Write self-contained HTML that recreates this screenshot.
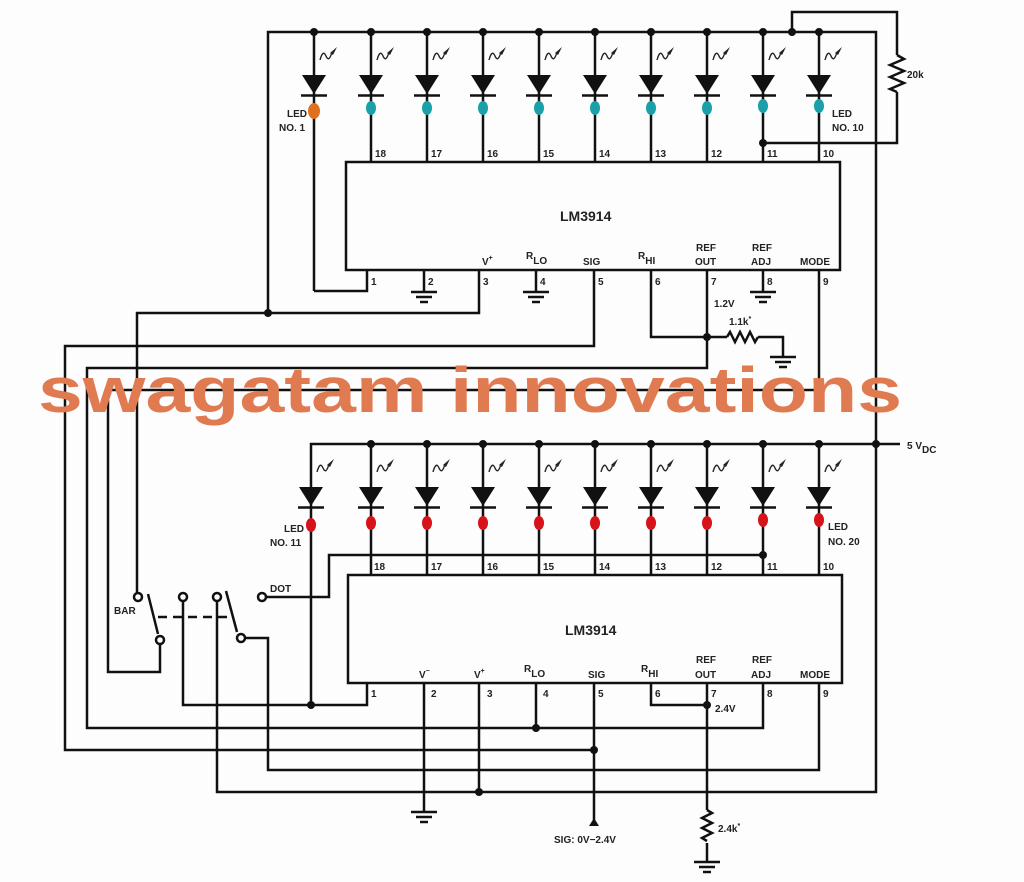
<!DOCTYPE html>
<html><head><meta charset="utf-8"><style>
html,body{margin:0;padding:0;background:#fdfdfd;}
svg{display:block;}
text{font-family:"Liberation Sans",Arial,sans-serif;font-weight:bold;fill:#222;}
.s{font-size:10px;}
</style></head><body>
<svg width="1024" height="882" viewBox="0 0 1024 882" xmlns="http://www.w3.org/2000/svg">
<defs>
<g id="dt">
 <polygon points="-12,75 12,75 0,94" fill="#111"/>
 <line x1="-13" y1="95.5" x2="13" y2="95.5" stroke="#111" stroke-width="2.5"/>
 <path d="M6,60 q3,-11 6,-4 q3,7 6,-4" fill="none" stroke="#222" stroke-width="1.4"/>
 <polygon points="23,47 16,53 19,55" fill="#222"/>
</g>
<g id="gnd" stroke="#111" stroke-width="2.5">
 <line x1="-13" y1="0" x2="13" y2="0"/><line x1="-8" y1="5" x2="8" y2="5"/><line x1="-4" y1="10" x2="4" y2="10"/>
</g>
</defs>
<g stroke="#111" stroke-width="2.5" fill="none">
<!-- TOP SECTION -->
<polyline points="268,313 268,32 876,32 876,792 217,792 217,601"/>
<polyline points="792,32 792,12 897,12 897,55"/>
<path d="M897,55 l7,4 l-14,6 l14,6 l-14,6 l14,6 l-14,6 l7,3"/>
<polyline points="897,92 897,143 763,143"/>
<!-- LED wires top -->
<line x1="314" y1="32" x2="314" y2="291"/><polyline points="314,291 367,291 367,270"/>
<line x1="371" y1="32" x2="371" y2="162"/><line x1="427" y1="32" x2="427" y2="162"/>
<line x1="483" y1="32" x2="483" y2="162"/><line x1="539" y1="32" x2="539" y2="162"/>
<line x1="595" y1="32" x2="595" y2="162"/><line x1="651" y1="32" x2="651" y2="162"/>
<line x1="707" y1="32" x2="707" y2="162"/><line x1="763" y1="32" x2="763" y2="162"/>
<line x1="819" y1="32" x2="819" y2="162"/>
<rect x="346" y="162" width="494" height="108"/>
<!-- top chip bottom pins -->
<line x1="424" y1="270" x2="424" y2="292"/><line x1="536" y1="270" x2="536" y2="292"/><line x1="763" y1="270" x2="763" y2="292"/>
<polyline points="479,270 479,313 137,313 137,593"/>
<polyline points="594,270 594,346 65,346 65,750 594,750"/>
<polyline points="651,270 651,337 707,337"/>
<polyline points="707,270 707,368 87,368 87,728 763,728 763,683"/>
<polyline points="707,337 727,337"/>
<path d="M727,337 l3,-5 l5,10 l5,-10 l5,10 l5,-10 l5,10 l3,-5"/>
<polyline points="758,337 783,337 783,357"/>
<polyline points="819,270 819,390 108,390 108,672 160,672 160,644"/>
<!-- 5V rail -->
<polyline points="311,525 311,444 900,444"/>
<line x1="371" y1="444" x2="371" y2="575"/><line x1="427" y1="444" x2="427" y2="575"/>
<line x1="483" y1="444" x2="483" y2="575"/><line x1="539" y1="444" x2="539" y2="575"/>
<line x1="595" y1="444" x2="595" y2="575"/><line x1="651" y1="444" x2="651" y2="575"/>
<line x1="707" y1="444" x2="707" y2="575"/><line x1="763" y1="444" x2="763" y2="575"/>
<line x1="819" y1="444" x2="819" y2="575"/>
<line x1="311" y1="525" x2="311" y2="705"/>
<polyline points="763,555 329,555 329,597 266,597"/>
<rect x="348" y="575" width="494" height="108"/>
<polyline points="367,683 367,705 183,705 183,601"/>
<line x1="424" y1="683" x2="424" y2="812"/>
<line x1="479" y1="683" x2="479" y2="792"/>
<line x1="536" y1="683" x2="536" y2="728"/>
<line x1="594" y1="683" x2="594" y2="820"/>
<polyline points="651,683 651,705 707,705"/>
<line x1="707" y1="683" x2="707" y2="810"/>
<path d="M707,810 l5,3 l-10,5 l10,5 l-10,5 l10,5 l-10,5 l5,3"/>
<line x1="707" y1="843" x2="707" y2="862"/>
<polyline points="819,683 819,770 268,770 268,638 245,638"/>
<!-- switch -->
<line x1="148" y1="594" x2="158" y2="634"/>
<line x1="226" y1="591" x2="237" y2="632"/>
<line x1="158" y1="617" x2="230" y2="617" stroke-dasharray="9,6"/>
<circle cx="138" cy="597" r="4" fill="#fff"/><circle cx="160" cy="640" r="4" fill="#fff"/>
<circle cx="183" cy="597" r="4" fill="#fff"/><circle cx="217" cy="597" r="4" fill="#fff"/>
<circle cx="241" cy="638" r="4" fill="#fff"/><circle cx="262" cy="597" r="4" fill="#fff"/>
</g>
<!-- grounds -->
<use href="#gnd" x="424" y="292"/><use href="#gnd" x="536" y="292"/><use href="#gnd" x="763" y="292"/>
<use href="#gnd" x="783" y="357"/><use href="#gnd" x="424" y="812"/><use href="#gnd" x="707" y="862"/>
<polygon points="594,818 589,826 599,826" fill="#111"/>
<!-- dots -->
<g fill="#111">
<circle cx="314" cy="32" r="4"/><circle cx="371" cy="32" r="4"/><circle cx="427" cy="32" r="4"/><circle cx="483" cy="32" r="4"/><circle cx="539" cy="32" r="4"/><circle cx="595" cy="32" r="4"/><circle cx="651" cy="32" r="4"/><circle cx="707" cy="32" r="4"/><circle cx="763" cy="32" r="4"/><circle cx="792" cy="32" r="4"/><circle cx="819" cy="32" r="4"/>
<circle cx="763" cy="143" r="4"/><circle cx="268" cy="313" r="4"/><circle cx="707" cy="337" r="4"/>
<circle cx="371" cy="444" r="4"/><circle cx="427" cy="444" r="4"/><circle cx="483" cy="444" r="4"/><circle cx="539" cy="444" r="4"/><circle cx="595" cy="444" r="4"/><circle cx="651" cy="444" r="4"/><circle cx="707" cy="444" r="4"/><circle cx="763" cy="444" r="4"/><circle cx="819" cy="444" r="4"/><circle cx="876" cy="444" r="4"/>
<circle cx="763" cy="555" r="4"/><circle cx="311" cy="705" r="4"/><circle cx="707" cy="705" r="4"/>
<circle cx="536" cy="728" r="4"/><circle cx="594" cy="750" r="4"/><circle cx="479" cy="792" r="4"/>
</g>
<!-- diodes -->
<g>
<use href="#dt" x="314"/><use href="#dt" x="371"/><use href="#dt" x="427"/><use href="#dt" x="483"/><use href="#dt" x="539"/><use href="#dt" x="595"/><use href="#dt" x="651"/><use href="#dt" x="707"/><use href="#dt" x="763"/><use href="#dt" x="819"/>
<use href="#dt" x="311" y="412"/><use href="#dt" x="371" y="412"/><use href="#dt" x="427" y="412"/><use href="#dt" x="483" y="412"/><use href="#dt" x="539" y="412"/><use href="#dt" x="595" y="412"/><use href="#dt" x="651" y="412"/><use href="#dt" x="707" y="412"/><use href="#dt" x="763" y="412"/><use href="#dt" x="819" y="412"/>
</g>
<g fill="#1aa0a8">
<ellipse cx="314" cy="111" rx="6" ry="8" fill="#e0701e"/>
<ellipse cx="371" cy="108" rx="5" ry="7"/><ellipse cx="427" cy="108" rx="5" ry="7"/><ellipse cx="483" cy="108" rx="5" ry="7"/><ellipse cx="539" cy="108" rx="5" ry="7"/><ellipse cx="595" cy="108" rx="5" ry="7"/><ellipse cx="651" cy="108" rx="5" ry="7"/><ellipse cx="707" cy="108" rx="5" ry="7"/><ellipse cx="763" cy="106" rx="5" ry="7"/><ellipse cx="819" cy="106" rx="5" ry="7"/>
</g>
<g fill="#d4141a">
<ellipse cx="311" cy="525" rx="5" ry="7"/><ellipse cx="371" cy="523" rx="5" ry="7"/><ellipse cx="427" cy="523" rx="5" ry="7"/><ellipse cx="483" cy="523" rx="5" ry="7"/><ellipse cx="539" cy="523" rx="5" ry="7"/><ellipse cx="595" cy="523" rx="5" ry="7"/><ellipse cx="651" cy="523" rx="5" ry="7"/><ellipse cx="707" cy="523" rx="5" ry="7"/><ellipse cx="763" cy="520" rx="5" ry="7"/><ellipse cx="819" cy="520" rx="5" ry="7"/>
</g>
<!-- labels top -->
<g class="s">
<text x="287" y="117">LED</text><text x="279" y="131">NO. 1</text>
<text x="832" y="117">LED</text><text x="832" y="131">NO. 10</text>
<text x="907" y="78">20k</text>
<text x="375" y="157">18</text><text x="431" y="157">17</text><text x="487" y="157">16</text><text x="543" y="157">15</text><text x="599" y="157">14</text><text x="655" y="157">13</text><text x="711" y="157">12</text><text x="767" y="157">11</text><text x="823" y="157">10</text>
<text x="371" y="285">1</text><text x="428" y="285">2</text><text x="483" y="285">3</text><text x="540" y="285">4</text><text x="598" y="285">5</text><text x="655" y="285">6</text><text x="711" y="285">7</text><text x="767" y="285">8</text><text x="823" y="285">9</text>
<text x="482" y="265">V<tspan dy="-5" font-size="7">+</tspan></text>
<text x="526" y="259">R<tspan dy="5">LO</tspan></text>
<text x="583" y="265">SIG</text>
<text x="638" y="259">R<tspan dy="5">HI</tspan></text>
<text x="696" y="251">REF</text><text x="695" y="265">OUT</text>
<text x="752" y="251">REF</text><text x="751" y="265">ADJ</text>
<text x="800" y="265">MODE</text>
<text x="714" y="307">1.2V</text><text x="729" y="325">1.1k<tspan dy="-4" font-size="7">*</tspan></text>
<text x="907" y="449">5 V<tspan dy="4">DC</tspan></text>
<text x="284" y="532">LED</text><text x="270" y="546">NO. 11</text>
<text x="828" y="530">LED</text><text x="828" y="545">NO. 20</text>
<text x="374" y="570">18</text><text x="431" y="570">17</text><text x="487" y="570">16</text><text x="543" y="570">15</text><text x="599" y="570">14</text><text x="655" y="570">13</text><text x="711" y="570">12</text><text x="767" y="570">11</text><text x="823" y="570">10</text>
<text x="371" y="697">1</text><text x="431" y="697">2</text><text x="487" y="697">3</text><text x="543" y="697">4</text><text x="598" y="697">5</text><text x="655" y="697">6</text><text x="711" y="697">7</text><text x="767" y="697">8</text><text x="823" y="697">9</text>
<text x="419" y="678">V<tspan dy="-5" font-size="7">−</tspan></text>
<text x="474" y="678">V<tspan dy="-5" font-size="7">+</tspan></text>
<text x="524" y="672">R<tspan dy="5">LO</tspan></text>
<text x="588" y="678">SIG</text>
<text x="641" y="672">R<tspan dy="5">HI</tspan></text>
<text x="696" y="663">REF</text><text x="695" y="678">OUT</text>
<text x="752" y="663">REF</text><text x="751" y="678">ADJ</text>
<text x="800" y="678">MODE</text>
<text x="715" y="712">2.4V</text><text x="718" y="832">2.4k<tspan dy="-4" font-size="7">*</tspan></text>
<text x="554" y="843">SIG:  0V−2.4V</text>
<text x="114" y="614">BAR</text><text x="270" y="592">DOT</text>
</g>
<text x="560" y="221" font-size="14">LM3914</text>
<text x="565" y="635" font-size="14">LM3914</text>
<text x="38" y="412" font-size="64" textLength="864" lengthAdjust="spacingAndGlyphs" style="fill:#e07a50;font-weight:bold">swagatam innovations</text>
</svg>
</body></html>
